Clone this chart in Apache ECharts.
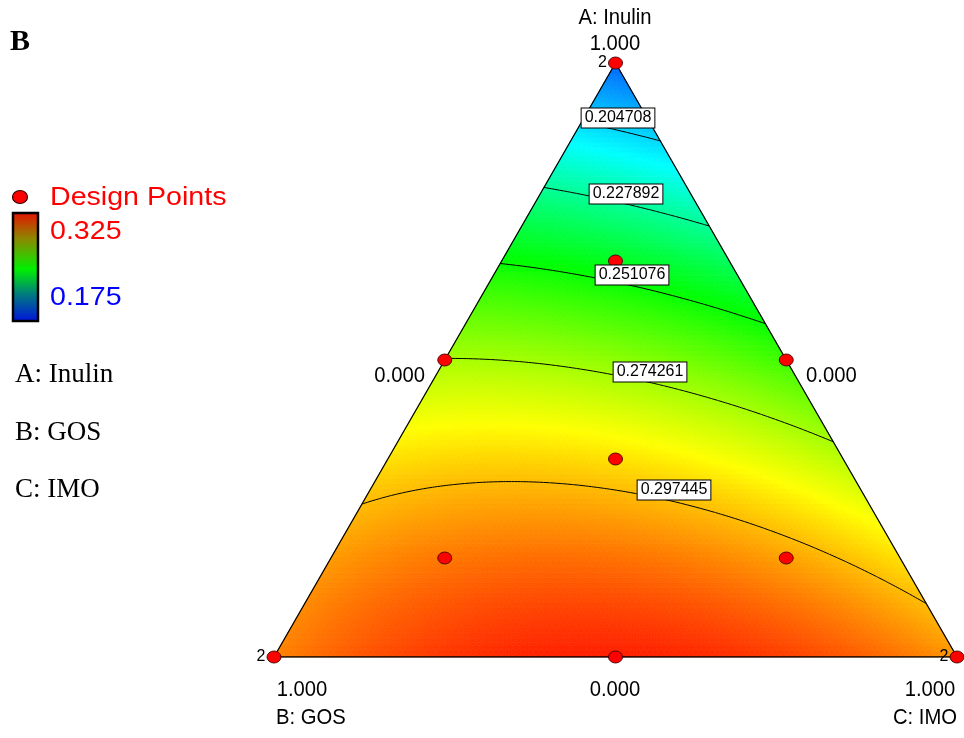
<!DOCTYPE html>
<html>
<head>
<meta charset="utf-8">
<script src="https://cdn.jsdelivr.net/npm/echarts@6/dist/echarts.min.js"></script>
<style>
  html, body { margin: 0; padding: 0; background: #fff; }
  #chart { width: 964px; height: 738px; }
</style>
</head>
<body>
<div id="chart"></div>
<script>
// Scheffé quadratic mixture model for the response
const linearCoef = [0.1811, 0.3056, 0.3029];   // A, B, C
const pairCoef = [0.125, 0.0671, 0.065];        // AB, AC, BC
const contourLevels = [0.204708, 0.227892, 0.251076, 0.274261, 0.297445];
const colorRange = [0.175, 0.325];

// Design points as mixture fractions, with replicate counts
const designA = [1, 0, 0, 0.5, 0.5, 0, 2 / 3, 1 / 6, 1 / 6, 1 / 3];
const designB = [0, 1, 0, 0.5, 0, 0.5, 1 / 6, 2 / 3, 1 / 6, 1 / 3];
const designC = [0, 0, 1, 0, 0.5, 0.5, 1 / 6, 1 / 6, 2 / 3, 1 / 3];
const replicates = [2, 2, 2, 1, 1, 1, 1, 1, 1, 1];

// Axis text
const componentTitles = ['A: Inulin', 'B: GOS', 'C: IMO'];
const vertexTick = '1.000';
const sideTick = '0.000';

const H = Math.sqrt(3) / 2;
function project(a, b, c) { return [c + a / 2, a * H]; }
function model(a, b, c) {
  return linearCoef[0] * a + linearCoef[1] * b + linearCoef[2] * c +
    pairCoef[0] * a * b + pairCoef[1] * a * c + pairCoef[2] * b * c;
}

// Triangular mesh over the simplex
const N = 120;
function node(i, j) {
  const a = i / N, c = j / N, b = 1 - a - c;
  const p = project(a, b, c);
  return { x: p[0], y: p[1], v: model(a, Math.max(b, 0), c) };
}
const cells = [];
const segments = [];
function addCell(p, q, r) {
  const v = (p.v + q.v + r.v) / 3;
  cells.push([p.x, p.y, q.x, q.y, r.x, r.y, v]);
  const pts = [p, q, r];
  contourLevels.forEach(L => {
    const hits = [];
    for (let k = 0; k < 3; k++) {
      const s = pts[k], e = pts[(k + 1) % 3];
      if ((s.v - L) * (e.v - L) < 0) {
        const t = (L - s.v) / (e.v - s.v);
        hits.push([s.x + t * (e.x - s.x), s.y + t * (e.y - s.y)]);
      }
    }
    if (hits.length === 2) segments.push([hits[0][0], hits[0][1], hits[1][0], hits[1][1]]);
  });
}
for (let i = 0; i < N; i++) {
  for (let j = 0; j < N - i; j++) {
    const p = node(i, j), q = node(i, j + 1), r = node(i + 1, j);
    addCell(p, q, r);
    if (i + j <= N - 2) addCell(r, q, node(i + 1, j + 1));
  }
}

const designData = designA.map((a, k) => {
  const p = project(a, designB[k], designC[k]);
  return { value: p, rep: replicates[k] };
});

const chart = echarts.init(document.getElementById('chart'), null, { renderer: 'canvas' });

const sans = '"Liberation Sans", Arial, sans-serif';
const serif = '"Liberation Serif", "Times New Roman", serif';
function txt(x, y, text, opts) {
  return {
    type: 'text', x: x, y: y, scaleX: opts.scaleX || 1, z: 100,
    style: {
      text: text, x: 0, y: 0, font: opts.font, fill: opts.color || '#000',
      align: opts.align || 'center', verticalAlign: 'middle'
    }
  };
}

// Contour label boxes
const labelCenters = [[618, 118], [626, 194], [632, 275], [650, 372], [674, 490]];
const contourLabels = contourLevels.map((L, k) => ({
  type: 'text', x: labelCenters[k][0], y: labelCenters[k][1], z: 90,
  style: {
    text: L.toFixed(6), x: 0, y: 0, font: '16px ' + sans, fill: '#000',
    align: 'center', verticalAlign: 'middle',
    backgroundColor: '#fff', borderColor: '#000', borderWidth: 1, padding: [2, 3, 1, 3]
  }
}));

const axisFont = '22px ' + sans;
const graphics = [
  txt(10, 42, 'B', { font: 'bold 30px ' + serif, align: 'left' }),
  // legend
  { type: 'ellipse', z: 100, shape: { cx: 20, cy: 197, rx: 7.5, ry: 6.5 },
    style: { fill: '#ff0000', stroke: '#300', lineWidth: 1.2 } },
  txt(50, 198, 'Design Points', { font: '26px ' + sans, color: '#ff0000', align: 'left', scaleX: 1.1 }),
  { type: 'rect', z: 100, shape: { x: 13, y: 213, width: 25, height: 108 },
    style: {
      stroke: '#000', lineWidth: 2.5,
      fill: new echarts.graphic.LinearGradient(0, 0, 0, 1, [
        { offset: 0, color: '#e81000' },
        { offset: 0.25, color: '#8a8a00' },
        { offset: 0.52, color: '#00f000' },
        { offset: 0.75, color: '#007a80' },
        { offset: 1, color: '#0010e0' }
      ])
    } },
  txt(50, 232, colorRange[1].toFixed(3), { font: '26px ' + sans, color: '#ff0000', align: 'left', scaleX: 1.1 }),
  txt(50, 298, colorRange[0].toFixed(3), { font: '26px ' + sans, color: '#0000ff', align: 'left', scaleX: 1.1 }),
  txt(15, 375, componentTitles[0], { font: '27px ' + serif, align: 'left' }),
  txt(15, 433, componentTitles[1], { font: '27px ' + serif, align: 'left' }),
  txt(15, 490, componentTitles[2], { font: '27px ' + serif, align: 'left' }),
  // ternary axis text
  txt(615, 18, componentTitles[0], { font: axisFont, scaleX: 0.92 }),
  txt(615, 44, vertexTick, { font: axisFont, scaleX: 0.92 }),
  txt(302, 690, vertexTick, { font: axisFont, scaleX: 0.92 }),
  txt(276, 718, componentTitles[1], { font: axisFont, align: 'left', scaleX: 0.92 }),
  txt(615, 690, sideTick, { font: axisFont, scaleX: 0.92 }),
  txt(930, 690, vertexTick, { font: axisFont, scaleX: 0.92 }),
  txt(957, 718, componentTitles[2], { font: axisFont, align: 'right', scaleX: 0.92 }),
  txt(425, 376, sideTick, { font: axisFont, align: 'right', scaleX: 0.92 }),
  txt(806, 376, sideTick, { font: axisFont, align: 'left', scaleX: 0.92 })
].concat(contourLabels);

chart.setOption({
  animation: false,
  backgroundColor: '#fff',
  grid: { left: 274, top: 63, width: 683, height: 594 },
  xAxis: { type: 'value', min: 0, max: 1, show: false },
  yAxis: { type: 'value', min: 0, max: H, show: false },
  visualMap: {
    type: 'continuous', show: false, seriesIndex: 0, dimension: 6,
    min: colorRange[0], max: colorRange[1],
    inRange: { color: ['#0046ff', '#00ffff', '#00ff00', '#ffff00', '#ff0000'] }
  },
  graphic: graphics,
  series: [
    {
      type: 'custom', data: cells, progressive: 0, silent: true, z: 1,
      encode: { x: 0, y: 1 },
      renderItem: function (params, api) {
        const p1 = api.coord([api.value(0), api.value(1)]);
        const p2 = api.coord([api.value(2), api.value(3)]);
        const p3 = api.coord([api.value(4), api.value(5)]);
        const color = api.visual('color');
        return { type: 'polygon', shape: { points: [p1, p2, p3] },
          style: { fill: color, stroke: color, lineWidth: 0.7 } };
      }
    },
    {
      type: 'custom', data: segments, progressive: 0, silent: true, z: 3,
      encode: { x: 0, y: 1 },
      renderItem: function (params, api) {
        const p1 = api.coord([api.value(0), api.value(1)]);
        const p2 = api.coord([api.value(2), api.value(3)]);
        return { type: 'line', shape: { x1: p1[0], y1: p1[1], x2: p2[0], y2: p2[1] },
          style: { stroke: '#000', lineWidth: 1 } };
      }
    },
    {
      type: 'line', z: 4, silent: true, symbol: 'none',
      data: [project(0, 1, 0), project(0, 0, 1), project(1, 0, 0), project(0, 1, 0)],
      lineStyle: { color: '#000', width: 1.3 }
    },
    {
      type: 'scatter', z: 5, silent: true,
      data: designData,
      symbol: 'circle', symbolSize: [14, 12],
      itemStyle: { color: '#ff0000', borderColor: '#400', borderWidth: 0.9, opacity: 1 },
      label: {
        show: true, position: 'left', distance: 1, color: '#000',
        fontFamily: sans, fontSize: 16,
        formatter: p => (p.data.rep > 1 ? String(p.data.rep) : '')
      }
    }
  ]
});
</script>
</body>
</html>
